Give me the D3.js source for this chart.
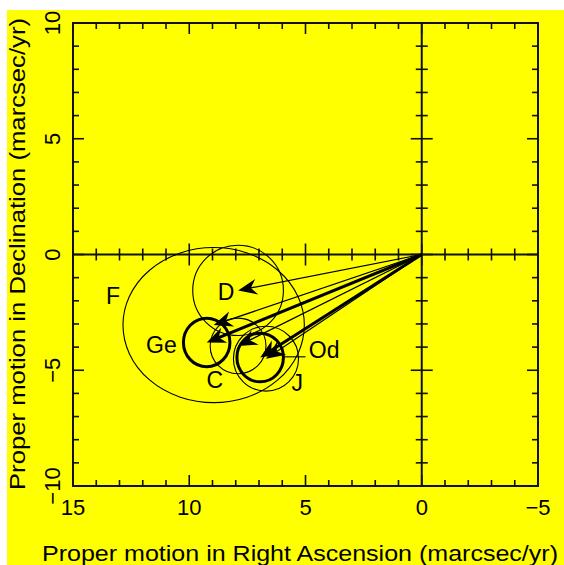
<!DOCTYPE html>
<html>
<head>
<meta charset="utf-8">
<script src="https://cdn.jsdelivr.net/npm/d3@7"></script>
<style>
  body { margin: 0; background: #fff; }
  svg { display: block; }
  text { font-family: "Liberation Sans", Arial, sans-serif; fill: #000; }
</style>
</head>
<body>
<script>
// objects: end point of proper motion vector and error ellipse
const objNames = ["D", "F", "Ge", "C", "J", "Od"];
const objRA    = [7.9, 8.95, 9.25, 7.9, 6.7, 6.95];
const objDec   = [-1.55, -3.05, -3.8, -3.95, -4.5, -4.45];
const errRA    = [1.95, 3.9, 1.0, 1.2, 1.4, 1.0];
const errDec   = [1.95, 3.35, 1.05, 1.2, 1.4, 1.05];
const isBold   = [false, false, true, false, false, true];

// label positions (data units)
const labelRA  = [8.42, 13.28, 11.2, 8.9, 5.36, 4.2];
const labelDec = [-1.6, -1.8, -3.88, -5.4, -5.55, -4.1];

// leader line for Od
const leaderRA  = [5.95, 5.0];
const leaderDec = [-4.42, -4.42];

const xTickVals = [15, 10, 5, 0, -5];
const yTickVals = [10, 5, 0, -5, -10];

const width = 564, height = 565;
const x = d3.scaleLinear().domain([15, -5]).range([73, 538]);
const y = d3.scaleLinear().domain([10, -10]).range([23, 486]);

const svg = d3.select("body").append("svg")
    .attr("width", width)
    .attr("height", height);

// yellow background
svg.append("rect")
    .attr("x", 7).attr("y", 10)
    .attr("width", width - 7).attr("height", height - 10)
    .attr("fill", "#ffff00");

const axisColor = "#111";
const minor = 6, major = 11;

// frame
svg.append("rect")
    .attr("x", x(15)).attr("y", y(10))
    .attr("width", x(-5) - x(15)).attr("height", y(-10) - y(10))
    .attr("fill", "none").attr("stroke", axisColor).attr("stroke-width", 2);

// zero lines
svg.append("line")
    .attr("x1", x(15)).attr("x2", x(-5)).attr("y1", y(0)).attr("y2", y(0))
    .attr("stroke", axisColor).attr("stroke-width", 2);
svg.append("line")
    .attr("x1", x(0)).attr("x2", x(0)).attr("y1", y(10)).attr("y2", y(-10))
    .attr("stroke", axisColor).attr("stroke-width", 2);

// ticks
const ticks = svg.append("g").attr("stroke", axisColor).attr("stroke-width", 1.6);
const xt = d3.range(-5, 16);
const yt = d3.range(-10, 11);
const len = v => (v % 5 === 0 ? major : minor);

xt.forEach(v => {
    // bottom
    ticks.append("line").attr("x1", x(v)).attr("x2", x(v))
        .attr("y1", y(-10)).attr("y2", y(-10) - len(v));
    // top
    ticks.append("line").attr("x1", x(v)).attr("x2", x(v))
        .attr("y1", y(10)).attr("y2", y(10) + len(v));
    // on y=0 line, both sides
    ticks.append("line").attr("x1", x(v)).attr("x2", x(v))
        .attr("y1", y(0) - len(v)).attr("y2", y(0) + len(v));
});
yt.forEach(v => {
    ticks.append("line").attr("y1", y(v)).attr("y2", y(v))
        .attr("x1", x(15)).attr("x2", x(15) + len(v));
    ticks.append("line").attr("y1", y(v)).attr("y2", y(v))
        .attr("x1", x(-5)).attr("x2", x(-5) - len(v));
    ticks.append("line").attr("y1", y(v)).attr("y2", y(v))
        .attr("x1", x(0) - len(v)).attr("x2", x(0) + len(v));
});

const fmt = v => (v < 0 ? "\u2212" + Math.abs(v) : String(v));

// tick labels
svg.selectAll(".xlab").data(xTickVals).enter().append("text")
    .attr("x", d => x(d)).attr("y", 515)
    .attr("text-anchor", "middle")
    .style("font-size", "22px")
    .text(fmt);

svg.selectAll(".ylab").data(yTickVals).enter().append("text")
    .attr("transform", d => `translate(60,${y(d)}) rotate(-90)`)
    .attr("text-anchor", "middle")
    .style("font-size", "22px")
    .text(fmt);

// axis titles
svg.append("text")
    .attr("x", 300).attr("y", 561)
    .attr("text-anchor", "middle")
    .attr("textLength", 516).attr("lengthAdjust", "spacingAndGlyphs")
    .style("font-size", "22px")
    .text("Proper motion in Right Ascension (marcsec/yr)");

svg.append("text")
    .attr("transform", `translate(25,${(490 + 18) / 2}) rotate(-90)`)
    .attr("text-anchor", "middle")
    .attr("textLength", 472).attr("lengthAdjust", "spacingAndGlyphs")
    .style("font-size", "22px")
    .text("Proper motion in Declination (marcsec/yr)");

// error ellipses
const objs = objNames.map((n, i) => ({
    name: n, ra: objRA[i], dec: objDec[i], era: errRA[i], edec: errDec[i], bold: isBold[i]
}));

svg.append("g").selectAll("ellipse").data(objs).enter().append("ellipse")
    .attr("cx", d => x(d.ra)).attr("cy", d => y(d.dec))
    .attr("rx", d => Math.abs(x(d.ra + d.era) - x(d.ra)))
    .attr("ry", d => Math.abs(y(d.dec - d.edec) - y(d.dec)))
    .attr("fill", "none").attr("stroke", "#000")
    .attr("stroke-width", d => (d.bold ? 3 : 1.1));

// arrows from origin
const arrows = svg.append("g");
objs.forEach(d => {
    const x0 = x(0), y0 = y(0), x1 = x(d.ra), y1 = y(d.dec);
    const ang = Math.atan2(y1 - y0, x1 - x0);
    const hl = 19, hw = 8, notch = 13;
    const ux = Math.cos(ang), uy = Math.sin(ang);
    const px = -uy, py = ux;
    arrows.append("line")
        .attr("x1", x0).attr("y1", y0)
        .attr("x2", x1 - ux * notch).attr("y2", y1 - uy * notch)
        .attr("stroke", "#000").attr("stroke-width", d.bold ? 3 : 1.2);
    const pts = [
        [x1, y1],
        [x1 - ux * hl + px * hw, y1 - uy * hl + py * hw],
        [x1 - ux * notch, y1 - uy * notch],
        [x1 - ux * hl - px * hw, y1 - uy * hl - py * hw]
    ];
    arrows.append("polygon")
        .attr("points", pts.map(p => p.join(",")).join(" "))
        .attr("fill", "#000");
});

// leader line for Od
svg.append("line")
    .attr("x1", x(leaderRA[0])).attr("x2", x(leaderRA[1]))
    .attr("y1", y(leaderDec[0])).attr("y2", y(leaderDec[1]))
    .attr("stroke", "#000").attr("stroke-width", 1.1);

// object labels
svg.selectAll(".olab").data(objNames).enter().append("text")
    .attr("x", (d, i) => x(labelRA[i]))
    .attr("y", (d, i) => y(labelDec[i]))
    .attr("dy", "0.36em")
    .attr("text-anchor", "middle")
    .style("font-size", "23px")
    .text(d => d);
</script>
</body>
</html>
